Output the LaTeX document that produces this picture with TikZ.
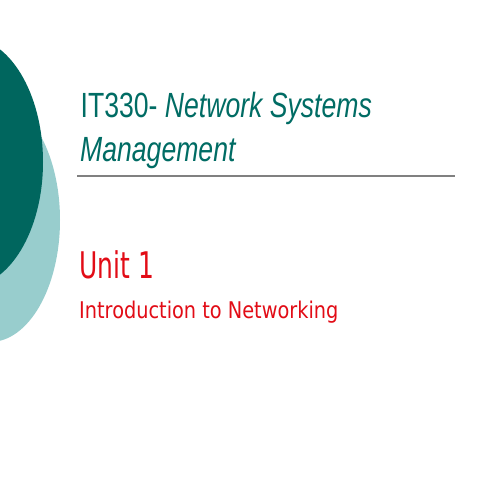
\documentclass[tikz,border=0pt]{standalone}
\usepackage{fontspec}
\newfontfamily\titlefont[FakeStretch=0.76]{Liberation Sans}
\newfontfamily\unitfont[FakeStretch=0.68]{DejaVu Sans}
\newfontfamily\introfont[FakeStretch=0.84]{DejaVu Sans}
\definecolor{darkteal}{RGB}{0,102,94}
\definecolor{lightteal}{RGB}{152,205,205}
\definecolor{titleteal}{RGB}{0,108,100}
\definecolor{unitred}{RGB}{226,12,22}
\begin{document}
\begin{tikzpicture}[x=1pt,y=-1pt,%
% common options for the slide texts:
slidetext/.style = {anchor=base west, inner sep=0, align=left},
title/.style = {slidetext, text=titleteal, font=\titlefont\fontsize{35}{44}\selectfont},
unit/.style = {slidetext, text=unitred, font=\unitfont\fontsize{36.7}{44}\selectfont},
intro/.style = {slidetext, text=unitred, font=\introfont\fontsize{23}{28}\selectfont}]
\useasboundingbox[fill=white] (0,0) rectangle (480,480);
\clip (0,0) rectangle (480,480);
% the two discs on the left
\fill[lightteal] (-10,220) ellipse [x radius=70pt, y radius=122pt];
\fill[darkteal] (-33,162) ellipse [x radius=76pt, y radius=125pt];
% title
\node[title] (T1) at (80.5,117) {IT330- \textit{Network Systems}};
\node[title] (T2) at (80,161) {\textit{Management}};
\coordinate (L0) at (77,175.5);
\coordinate (L1) at (455,175.5);
\draw[line width=2pt, gray] (L0) -- (L1);
% unit
\node[unit] (U1) at (79.5,278.3) {Unit 1};
\node[intro] (U2) at (79,318.7) {Introduction to Networking};
\end{tikzpicture}
\end{document}
